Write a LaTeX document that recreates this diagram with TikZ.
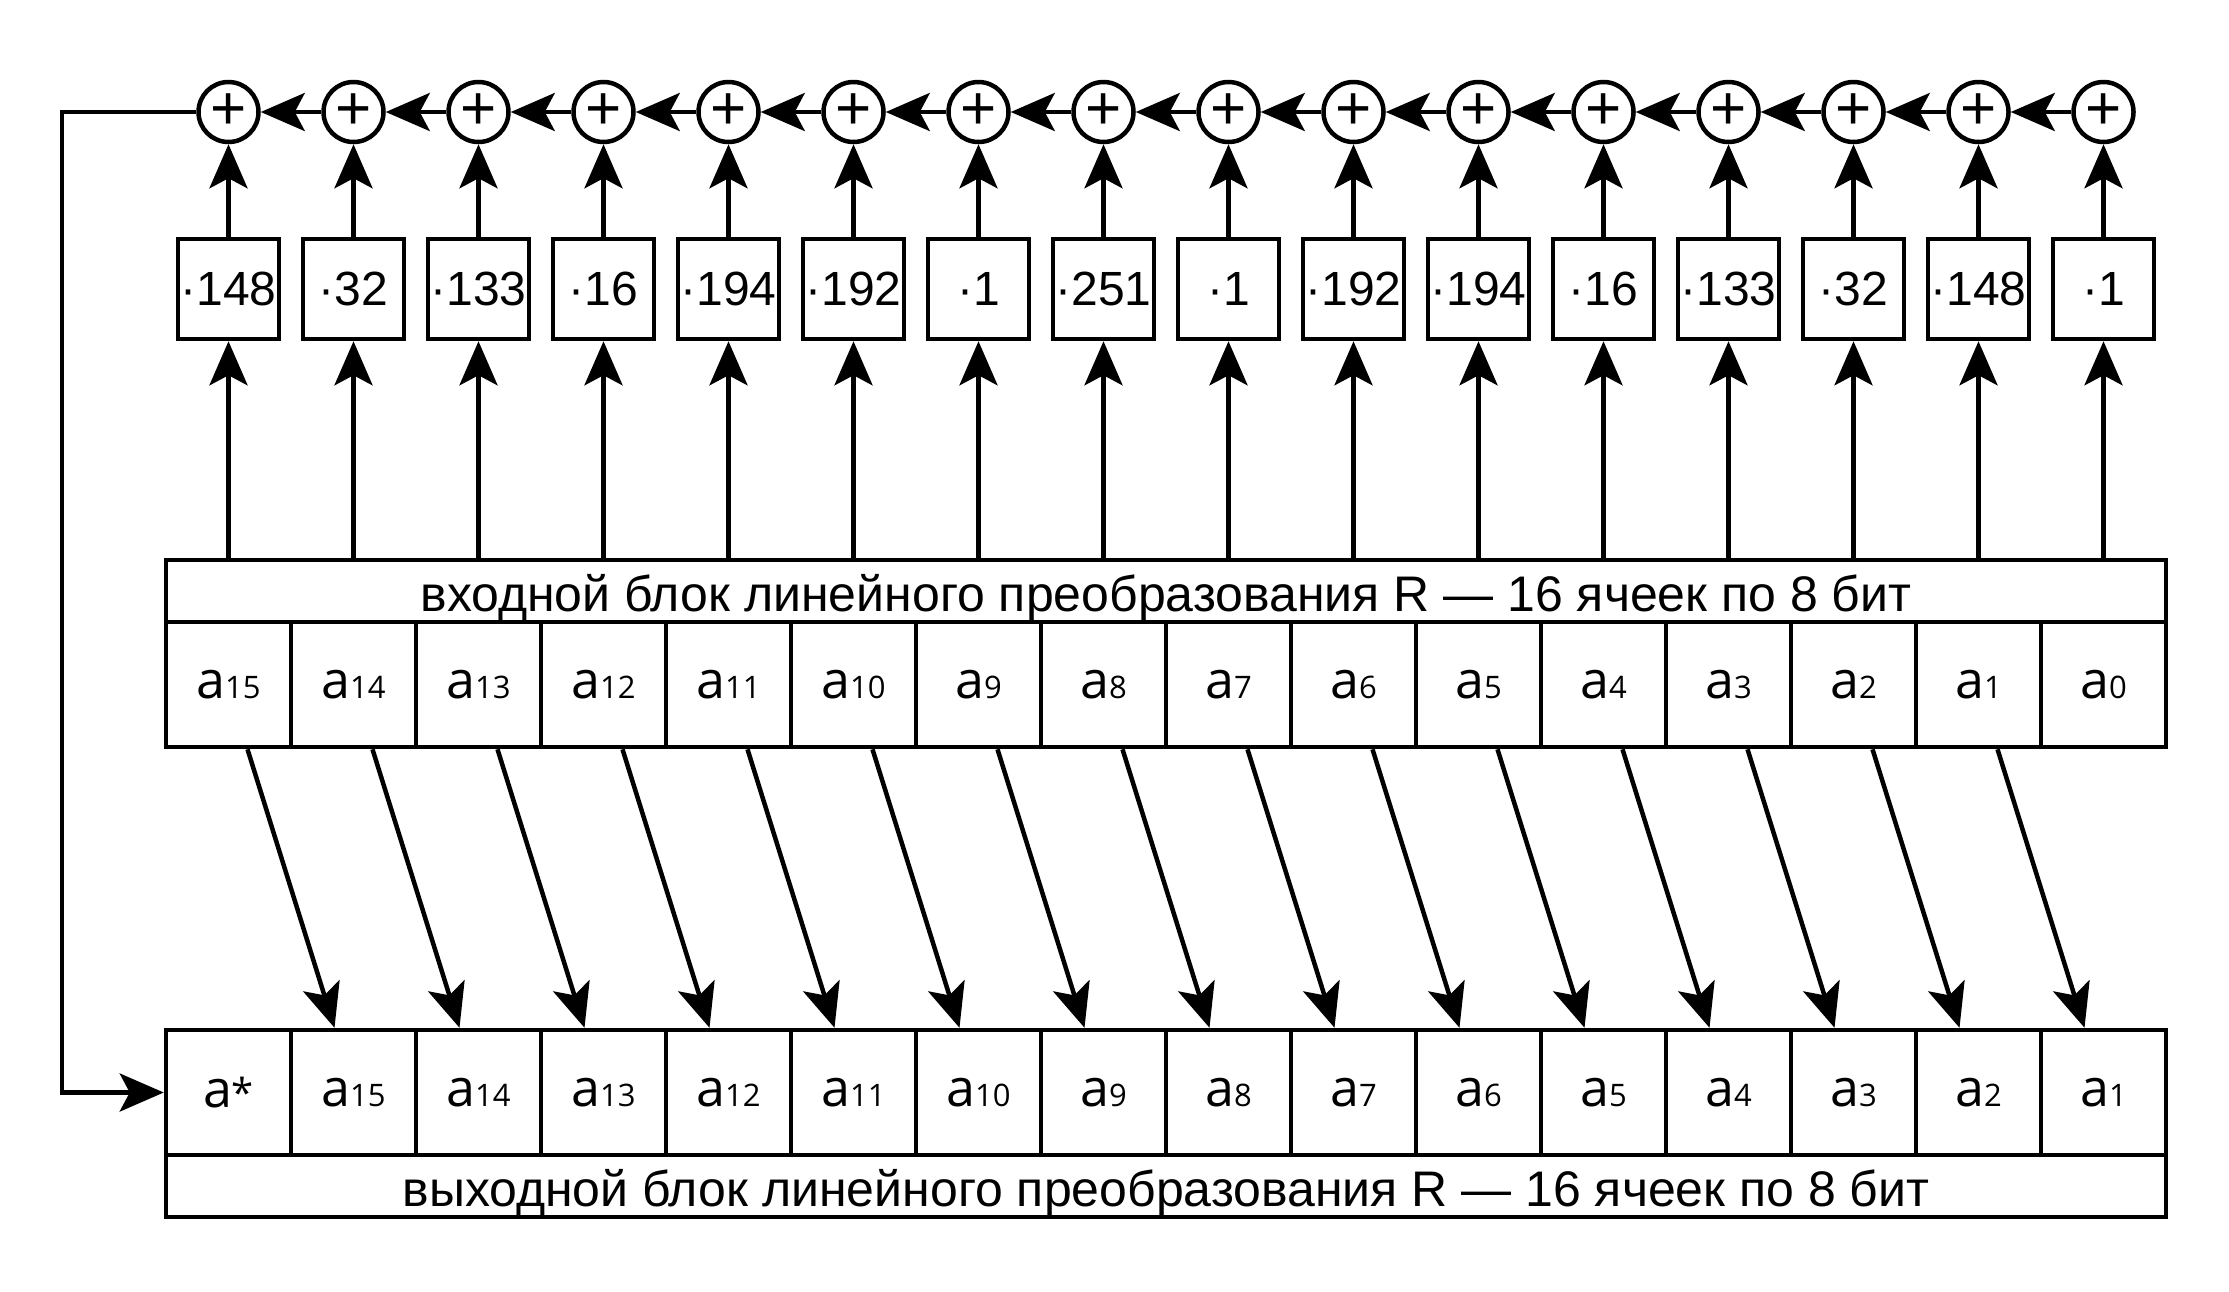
\documentclass[tikz,border=0pt]{standalone}
\usepackage{fontspec}
\setmainfont{Liberation Sans}
\newfontfamily\cellfont{Open Sans}
\usetikzlibrary{arrows.meta}

\begin{document}
\begin{tikzpicture}[x=1pt, y=-1pt, line width=4.5pt]
\tikzstyle{sum}=[circle, draw, minimum size=60pt, inner sep=0pt, font=\fontsize{62}{62}\selectfont]
\tikzstyle{mult}=[rectangle, draw, minimum width=101pt, minimum height=100pt, inner sep=0pt, font=\fontsize{48}{48}\selectfont]
\tikzstyle{cell}=[rectangle, draw, minimum size=125pt, inner sep=0pt, font=\cellfont\fontsize{52}{52}\selectfont]
\tikzstyle{block}=[rectangle, draw, minimum width=2000pt, minimum height=62pt, inner sep=0pt, text height=50pt, text depth=8.6pt, font=\fontsize{50}{50}\selectfont]
\tikzstyle{arrow}=[-{Stealth[length=44pt, width=38pt, inset=10pt]}]
\useasboundingbox (0,0) rectangle (2229,1291);

\node (Lin) [block] at (1166,591) {входной блок линейного преобразования R — 16 ячеек по 8 бит};
\node (Lout) [block] at (1166,1186) {выходной блок линейного преобразования R — 16 ячеек по 8 бит};

\foreach \k/\c in {1/148, 2/32, 3/133, 4/16, 5/194, 6/192, 7/1, 8/251, 9/1, 10/192, 11/194, 12/16, 13/133, 14/32, 15/148, 16/1} {
  \node (S\k) [sum] at (103.5+125*\k, 112) {+};
  \node (M\k) [mult] at (103.5+125*\k, 289) {·\c};
}

\foreach \k/\i in {1/15, 2/14, 3/13, 4/12, 5/11, 6/10, 7/9, 8/8, 9/7, 10/6, 11/5, 12/4, 13/3, 14/2, 15/1, 16/0}
  \node (X\k) [cell] at (103.5+125*\k, 684.5) {a{\fontsize{31}{31}\selectfont\i}};

\node (Y1) [cell] at (228.5, 1092.5) {a{\fontsize{40}{40}\selectfont*}};
\foreach \k/\i in {2/15, 3/14, 4/13, 5/12, 6/11, 7/10, 8/9, 9/8, 10/7, 11/6, 12/5, 13/4, 14/3, 15/2, 16/1}
  \node (Y\k) [cell] at (103.5+125*\k, 1092.5) {a{\fontsize{31}{31}\selectfont\i}};

\foreach \k in {1,...,16} {
  \draw [arrow] (M\k |- Lin.north) -- (M\k.south);
  \draw [arrow] (M\k.north) -- (S\k.south);
}

\foreach \k in {1,...,15} {
  \pgfmathtruncatemacro{\n}{\k+1}
  \draw [arrow] (S\n.west) -- (S\k.east);
  \draw [arrow] ([xshift=19pt]X\k.south) -- ([xshift=-19pt]Y\n.north);
}

% feedback from the last sum back into the output block
\coordinate (F) at (62, 1092.5);
\draw [arrow] (S1.west) -| (F) -- (Y1.west);

\end{tikzpicture}
\end{document}
